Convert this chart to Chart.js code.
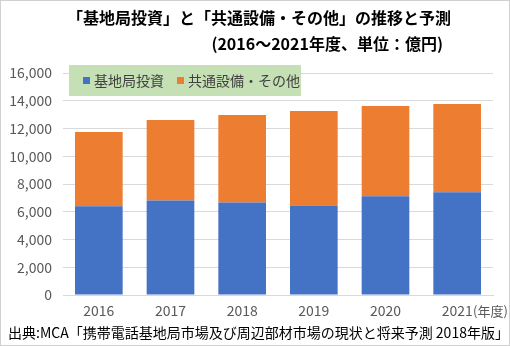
<!DOCTYPE html>
<html>
<head>
<meta charset="utf-8">
<script src="https://cdn.jsdelivr.net/npm/chart.js@4.4.0/dist/chart.umd.min.js"></script>
<style>
  html, body { margin: 0; padding: 0; background: #fff; }
  #wrap {
    position: relative; width: 510px; height: 346px; box-sizing: border-box;
    border: 1px solid #d0d0d0; overflow: hidden;
    font-family: "Noto Sans CJK JP", "Noto Sans", sans-serif;
  }
  #chart { position: absolute; left: 0; top: 0; }
  .t1, .t2 { position: absolute; font-weight: bold; font-size: 16px; color: #000; white-space: nowrap; line-height: 1; }
  .t1 { left: 66px; top: 8px; }
  .t2 { right: 66px; top: 34px; }
  #legend {
    position: absolute; left: 68px; top: 64px; width: 232px; height: 31px;
    background: #c5e0b4; font-size: 14px; color: #404040;
  }
  .item { position: absolute; top: 7px; white-space: nowrap; line-height: 17px; }
  .item i { display: inline-block; width: 7px; height: 7px; margin-right: 4px; vertical-align: 2px; }
  .unit { position: absolute; left: 472px; top: 301px; font-size: 13px; color: #595959; line-height: 17px; white-space: nowrap; }
  .src { position: absolute; left: 7px; top: 323px; font-size: 14px; color: #000; white-space: nowrap; line-height: 17px; }
</style>
</head>
<body>
<div id="wrap">
  <canvas id="chart" width="510" height="346"></canvas>
  <div class="t1">「基地局投資」と「共通設備・その他」の推移と予測</div>
  <div class="t2">(2016～2021年度、単位：億円)</div>
  <div id="legend"></div>
  <div class="unit">(年度)</div>
  <div class="src">出典:MCA「携帯電話基地局市場及び周辺部材市場の現状と将来予測 2018年版」</div>
</div>
<script>
const years = ['2016', '2017', '2018', '2019', '2020', '2021'];
const baseStation = [6400, 6810, 6670, 6450, 7120, 7410];
const commonOther = [5340, 5800, 6300, 6810, 6500, 6360];
const seriesNames = ['基地局投資', '共通設備・その他'];
const seriesColors = ['#4472c4', '#ed7d31'];

const tickFont = { family: "'Noto Sans CJK JP', 'Noto Sans', sans-serif", size: 14 };
Chart.defaults.font.family = tickFont.family;

// legend (html, sits inside the plot area like the original)
const legendEl = document.getElementById('legend');
const legendX = [14, 108];
seriesNames.forEach((name, i) => {
    const d = document.createElement('div');
    d.className = 'item';
    d.style.left = legendX[i] + 'px';
    d.innerHTML = '<i style="background:' + seriesColors[i] + '"></i>' + name;
    legendEl.appendChild(d);
});

const ctx = document.getElementById('chart').getContext('2d');
new Chart(ctx, {
    type: 'bar',
    data: {
        labels: years,
        datasets: [
            { label: seriesNames[0], data: baseStation, backgroundColor: seriesColors[0] },
            { label: seriesNames[1], data: commonOther, backgroundColor: seriesColors[1] }
        ]
    },
    options: {
        responsive: false,
        devicePixelRatio: 1,
        animation: false,
        layout: { padding: { top: 72, right: 18, left: 0, bottom: 0 } },
        datasets: { bar: { barPercentage: 0.665, categoryPercentage: 1 } },
        scales: {
            x: {
                stacked: true,
                grid: { display: false, drawTicks: false },
                border: { color: '#d9d9d9' },
                ticks: { color: '#595959', padding: 7, maxRotation: 0, minRotation: 0, font: tickFont },
                afterFit: s => { s.height = 52; }
            },
            y: {
                stacked: true,
                min: 0, max: 16000,
                border: { display: false },
                grid: { color: '#d9d9d9', drawTicks: false },
                ticks: {
                    stepSize: 2000, color: '#595959', padding: 11,
                    font: tickFont,
                    callback: v => v.toLocaleString('en-US')
                },
                afterFit: s => { s.width = 62; }
            }
        },
        plugins: {
            legend: { display: false },
            tooltip: { enabled: false }
        }
    }
});
</script>
</body>
</html>
